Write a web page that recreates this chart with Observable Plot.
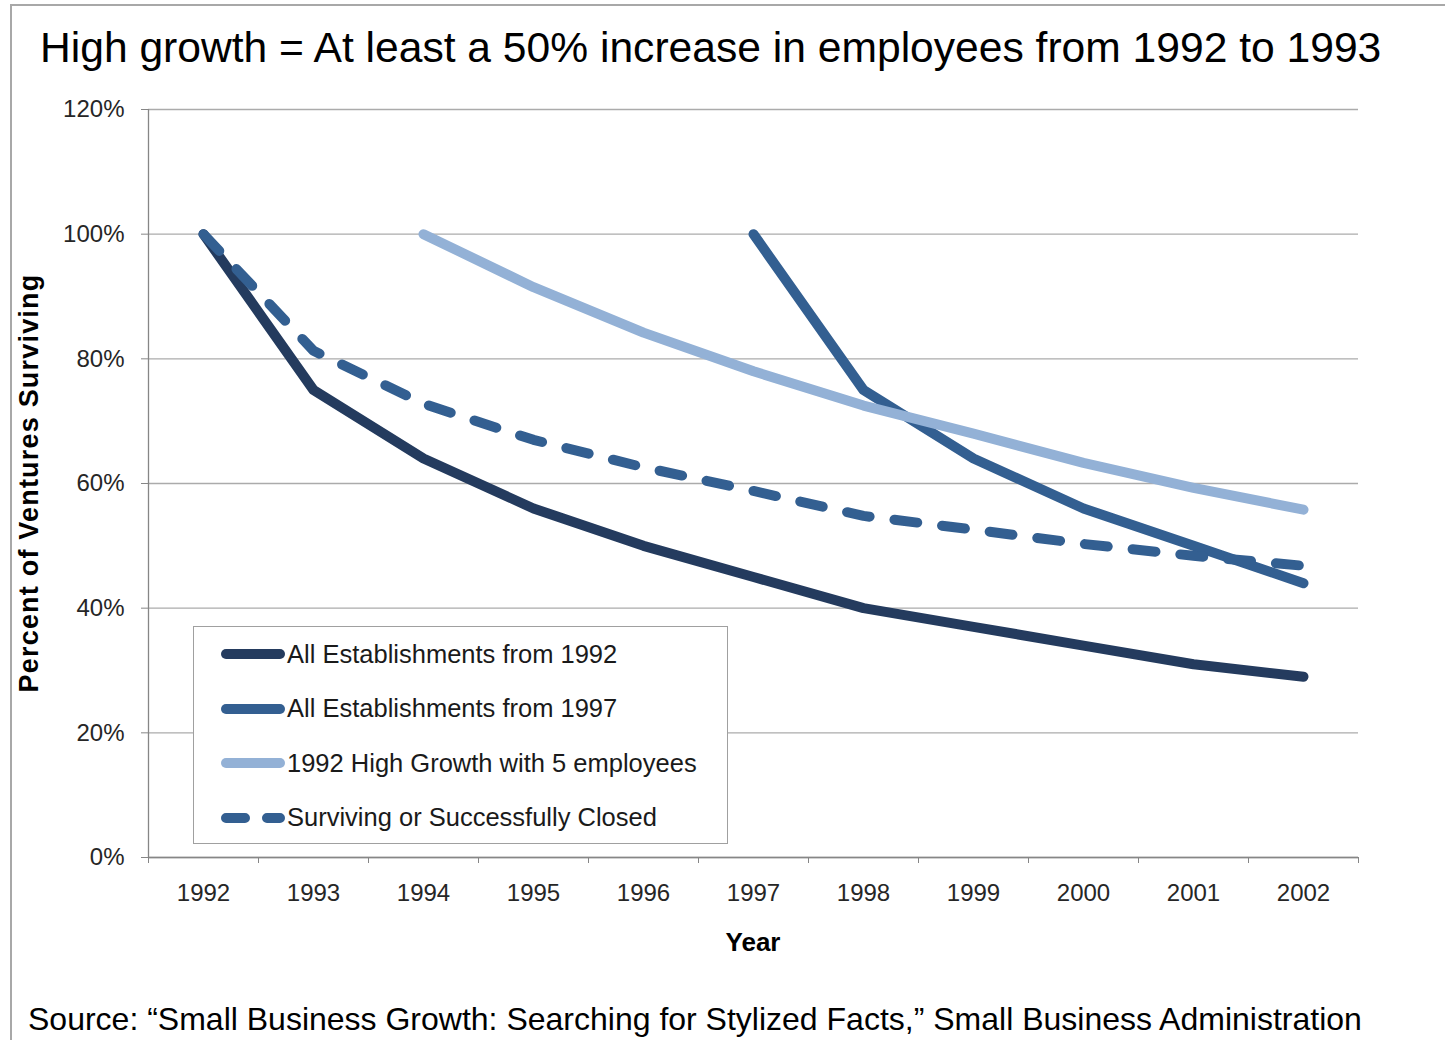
<!DOCTYPE html>
<html>
<head>
<meta charset="utf-8">
<script src="https://cdn.jsdelivr.net/npm/d3@7"></script>
<script src="https://cdn.jsdelivr.net/npm/@observablehq/plot@0.6"></script>
<style>
  html, body { margin: 0; padding: 0; background: #fff; }
  #page { position: relative; width: 1445px; height: 1040px; overflow: hidden; background: #fff;
          font-family: Arial, "Liberation Sans", Helvetica, sans-serif; }
  #frame { position: absolute; left: 10px; top: 4px; right: -10px; bottom: -10px;
           border-top: 2px solid #a8a8a8; border-left: 2px solid #a8a8a8; }
  #chart { position: absolute; left: 0; top: 0; }
  #title { position: absolute; left: 40px; top: 26px; font-size: 42.6px; line-height: 42.6px; color: #000; white-space: nowrap; }
  #source { position: absolute; left: 28px; top: 1003px; font-size: 32px; line-height: 32px; color: #000; white-space: nowrap; }
  #ylabel { position: absolute; left: 29px; top: 483px; font-size: 27px; line-height: 27px; letter-spacing: 1.2px; font-weight: bold; color: #000;
            white-space: nowrap; transform: translate(-50%, -50%) rotate(-90deg); }
  #xlabel { position: absolute; left: 753px; top: 929px; font-size: 26px; line-height: 26px; font-weight: bold; color: #000;
            white-space: nowrap; transform: translateX(-50%); }
  #legend { position: absolute; left: 193px; top: 626px; width: 533px; height: 216px; border: 1px solid #a0a0a0; background: #fff; }
  .entry { position: absolute; left: 27px; height: 30px; display: flex; align-items: center; font-size: 25.5px; color: #1a1a1a; white-space: nowrap; }
  .entry svg { display: block; margin-right: 2px; }
</style>
</head>
<body>
<div id="page">
  <div id="frame"></div>
  <div id="chart"></div>
  <div id="title"></div>
  <div id="ylabel"></div>
  <div id="xlabel"></div>
  <div id="legend"></div>
  <div id="source"></div>
</div>
<script>
// ---- Data ----
const years = [1992, 1993, 1994, 1995, 1996, 1997, 1998, 1999, 2000, 2001, 2002];
const seriesNames = [
  "All Establishments from 1992",
  "All Establishments from 1997",
  "1992 High Growth with 5 employees",
  "Surviving or Successfully Closed"
];
const est1992    = [100, 75, 64, 56, 50, 45, 40, 37, 34, 31, 29];
const est1997    = [null, null, null, null, null, 100, 75, 64, 56, 50, 44];
const highGrowth = [null, null, 100, 91.5, 84.2, 78, 72.5, 68, 63.3, 59.3, 55.8];
const survClosed = [100, 81.3, 72.8, 67, 62.6, 58.8, 54.8, 52.6, 50.3, 48.4, 46.8];
const yTicks = [0, 20, 40, 60, 80, 100, 120];
const titleText = "High growth = At least a 50% increase in employees from 1992 to 1993";
const yLabelText = "Percent of Ventures Surviving";
const xLabelText = "Year";
const sourceText = "Source: \u201cSmall Business Growth: Searching for Stylized Facts,\u201d Small Business Administration";

// ---- Styles ----
const colors = ["#243b5e", "#335f91", "#93b1d6", "#335f91"];
const dashes = [null, null, null, "23,25"];
const fontFamily = 'Arial, "Liberation Sans", Helvetica, sans-serif';

const allSeries = [est1992, est1997, highGrowth, survClosed];
const rows = [];
allSeries.forEach((vals, i) => vals.forEach((v, j) => {
  if (v != null) rows.push({series: seriesNames[i], year: years[j], value: v});
}));

const xDomain = [years[0] - 0.5, years[years.length - 1] + 0.5];
const boundaries = d3.range(xDomain[0], xDomain[1] + 0.01, 1);
const axisColor = "#868686";

const lineMarks = seriesNames.map((name, i) =>
  Plot.line(rows.filter(r => r.series === name), {
    x: "year", y: "value",
    stroke: colors[i], strokeWidth: 10,
    strokeLinecap: "round", strokeLinejoin: "round",
    strokeDasharray: dashes[i] || undefined
  })
);

const chart = Plot.plot({
  width: 1445, height: 1000,
  marginLeft: 148, marginRight: 87, marginTop: 109, marginBottom: 143,
  x: {domain: xDomain, axis: null},
  y: {domain: [0, 120], axis: null},
  style: {fontFamily, fontSize: "24px", color: "#262626", background: "transparent", overflow: "visible"},
  marks: [
    Plot.gridY(yTicks, {stroke: "#ababab", strokeOpacity: 1, strokeWidth: 1.3}),
    Plot.ruleX([xDomain[0]], {stroke: axisColor, strokeWidth: 1.3}),
    Plot.ruleY([0], {stroke: axisColor, strokeWidth: 1.3}),
    Plot.axisY(yTicks, {tickSize: 7, tickPadding: 17, tickFormat: d => d + "%", stroke: axisColor, label: null, fontSize: 24, fill: "#262626"}),
    Plot.axisX(boundaries, {tickSize: 6, tickFormat: () => "", stroke: axisColor, label: null}),
    Plot.axisX(years, {tickSize: 0, tickPadding: 26, tickFormat: d => String(d), label: null, fontSize: 24, fill: "#262626"}),
    ...lineMarks
  ]
});
document.getElementById("chart").appendChild(chart);

document.getElementById("title").textContent = titleText;
document.getElementById("ylabel").textContent = yLabelText;
document.getElementById("xlabel").textContent = xLabelText;
document.getElementById("source").textContent = sourceText;

// ---- Legend ----
const legend = document.getElementById("legend");
const rowCenters = [27, 81.5, 136, 190.5];
seriesNames.forEach((name, i) => {
  const e = document.createElement("div");
  e.className = "entry";
  e.style.top = (rowCenters[i] - 15) + "px";
  const svg = d3.create("svg").attr("width", 64).attr("height", 14);
  svg.append("line").attr("x1", 5).attr("x2", 59).attr("y1", 7).attr("y2", 7)
    .attr("stroke", colors[i]).attr("stroke-width", 10).attr("stroke-linecap", "round")
    .attr("stroke-dasharray", dashes[i] ? "19,22" : null);
  e.appendChild(svg.node());
  const t = document.createElement("span");
  t.textContent = name;
  e.appendChild(t);
  legend.appendChild(e);
});
</script>
</body>
</html>
